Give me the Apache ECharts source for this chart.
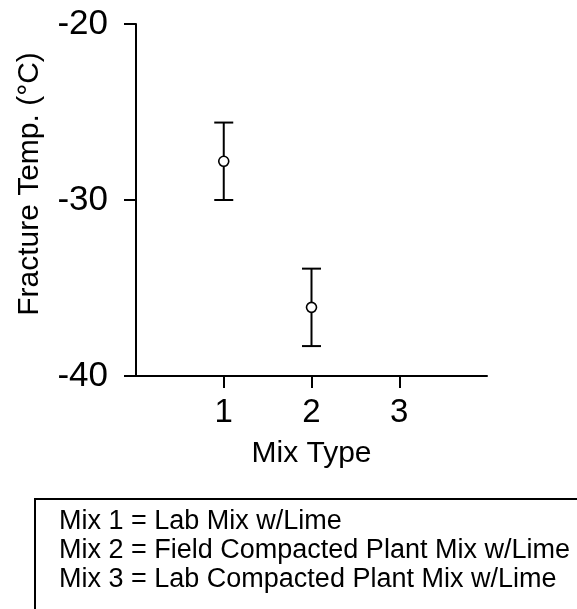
<!DOCTYPE html>
<html>
<head>
<meta charset="utf-8">
<script src="https://cdn.jsdelivr.net/npm/echarts@6/dist/echarts.min.js"></script>
<style>
  html, body { margin: 0; padding: 0; background: #fff; }
  #chart { width: 577px; height: 609px; }
</style>
</head>
<body>
<div id="chart"></div>
<script>
// ---- Data ----
const mixTypes = [1, 2, 3];
const meanTemp = [-27.8, -36.1, null];
const upperTemp = [-25.6, -33.9, null];
const lowerTemp = [-30.0, -38.3, null];
const xTicks = [1, 2, 3];
const yTicks = [-40, -30, -20];
const legendLines = [
  'Mix 1 = Lab Mix w/Lime',
  'Mix 2 = Field Compacted Plant Mix w/Lime',
  'Mix 3 = Lab Compacted Plant Mix w/Lime'
];
const yTitle = 'Fracture Temp. (\u00B0C)';
const xTitle = 'Mix Type';

const FONT = '"Liberation Sans", Arial, Helvetica, sans-serif';

const chart = echarts.init(document.getElementById('chart'), null, { renderer: 'canvas' });

const pointData = [];
const barData = [];
mixTypes.forEach((m, i) => {
  if (meanTemp[i] != null) pointData.push([m, meanTemp[i]]);
  if (upperTemp[i] != null) barData.push([m, lowerTemp[i], upperTemp[i]]);
});

const option = {
  backgroundColor: '#fff',
  animation: false,
  grid: { left: 136, right: 90, top: 24, bottom: 233, containLabel: false },
  xAxis: {
    type: 'value',
    min: 0, max: 4, interval: 1,
    name: xTitle,
    nameLocation: 'middle',
    nameGap: 63,
    nameTextStyle: { fontFamily: FONT, fontSize: 30, color: '#000' },
    axisLine: { show: true, onZero: false, lineStyle: { color: '#000', width: 2 } },
    axisTick: { show: true, customValues: xTicks, length: 12, lineStyle: { color: '#000', width: 2 } },
    axisLabel: { customValues: xTicks, fontFamily: FONT, fontSize: 33, color: '#000', margin: 20 },
    splitLine: { show: false }
  },
  yAxis: {
    type: 'value',
    min: -40, max: -20, interval: 10,
    axisLine: { show: true, onZero: false, lineStyle: { color: '#000', width: 2 } },
    axisTick: { show: true, customValues: yTicks, length: 12, lineStyle: { color: '#000', width: 2 } },
    axisLabel: { customValues: yTicks, fontFamily: FONT, fontSize: 35, color: '#000', margin: 28 },
    splitLine: { show: false }
  },
  graphic: [
    {
      type: 'text',
      x: 30, y: 184,
      rotation: Math.PI / 2,
      style: { text: yTitle, font: '30px ' + FONT, fill: '#000', textAlign: 'center', textVerticalAlign: 'middle' }
    },
    {
      type: 'rect',
      shape: { x: 35, y: 499, width: 600, height: 200 },
      style: { fill: '#fff', stroke: '#000', lineWidth: 2 }
    },
    ...legendLines.map((t, i) => ({
      type: 'text',
      x: 59, y: 522 + i * 29,
      style: { text: t, font: '27px ' + FONT, fill: '#000', textVerticalAlign: 'middle' }
    }))
  ],
  series: [
    {
      type: 'custom',
      data: barData,
      z: 2,
      renderItem: function (params, api) {
        const x = api.value(0);
        const lo = api.coord([x, api.value(1)]);
        const hi = api.coord([x, api.value(2)]);
        const hw = 9.5;
        const st = { stroke: '#000', lineWidth: 2 };
        return {
          type: 'group',
          children: [
            { type: 'line', shape: { x1: lo[0], y1: lo[1], x2: hi[0], y2: hi[1] }, style: st },
            { type: 'line', shape: { x1: lo[0] - hw, y1: lo[1], x2: lo[0] + hw, y2: lo[1] }, style: st },
            { type: 'line', shape: { x1: hi[0] - hw, y1: hi[1], x2: hi[0] + hw, y2: hi[1] }, style: st }
          ]
        };
      }
    },
    {
      type: 'scatter',
      data: pointData,
      z: 3,
      symbol: 'circle',
      symbolSize: 10,
      itemStyle: { color: '#fff', borderColor: '#000', borderWidth: 1.6, opacity: 1 }
    }
  ]
};

chart.setOption(option);
</script>
</body>
</html>
